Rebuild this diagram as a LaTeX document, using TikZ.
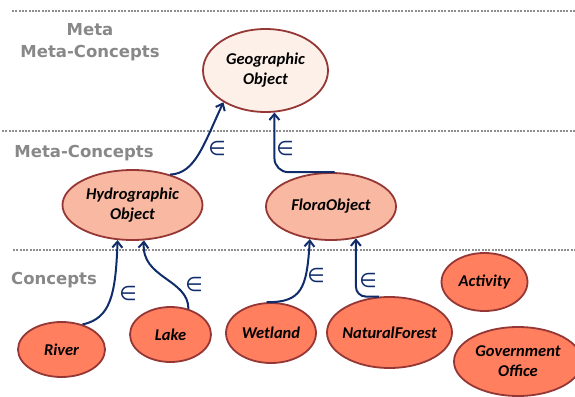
\documentclass[tikz,border=0pt]{standalone}
\usepackage{fontspec}
\setmainfont{Carlito}
\newfontfamily\levelfont{DejaVu Sans}
\usetikzlibrary{shapes.geometric,arrows.meta}
\definecolor{edgered}{HTML}{953735}
\definecolor{conceptfill}{HTML}{FF7F5F}
\definecolor{metafill}{HTML}{F9B8A1}
\definecolor{metametafill}{HTML}{FDF0E9}
\definecolor{isanavy}{HTML}{112C6B}
\definecolor{levelgray}{HTML}{888888}
\definecolor{dotgray}{HTML}{8E8E8E}

\begin{document}
\begin{tikzpicture}[x=1pt,y=-1pt,
  concept/.style={ellipse,draw=edgered,line width=1.8pt,fill=conceptfill,
    inner xsep=-7pt,inner ysep=-2pt,align=center,
    font=\fontsize{16.5}{20}\selectfont\bfseries\itshape},
  metaconcept/.style={concept,fill=metafill},
  metameta/.style={concept,fill=metametafill},
  level/.style={font=\levelfont\fontsize{16.5}{22}\selectfont\bfseries,text=levelgray,align=center},
  isa/.style={draw=isanavy,line width=2pt,-{Straight Barb[length=6pt,width=10pt]}},
  isalabel/.style={text=isanavy,font=\levelfont\fontsize{20}{20}\selectfont},
  divider/.style={dotgray,line width=2pt,dash pattern=on 2pt off 1.3pt}]
\useasboundingbox (0,0) rectangle (575,396);

% level dividers
\draw[divider] (12,11) -- (575,11);
\draw[divider] (2,131) -- (575,131);
\draw[divider] (13,250) -- (575,250);

% level names
\node[level] (lvmetameta) at (90,42) {Meta\\Meta-Concepts};
\node[level] (lvmeta) at (84,153) {Meta-Concepts};
\node[level] (lvconcept) at (54,280) {Concepts};

% meta meta-concepts
\node[metameta,minimum width=125pt,minimum height=83pt] (geo) at (265.5,70.5) {Geographic\\Object};

% meta-concepts
\node[metaconcept,minimum width=140pt,minimum height=70pt] (hydro) at (132.5,205) {Hydrographic\\Object};
\node[metaconcept,minimum width=130pt,minimum height=67pt] (flora) at (331,206.5) {FloraObject};

% concepts
\node[concept,minimum width=87pt,minimum height=55pt] (river) at (61.5,349.5) {River};
\node[concept,minimum width=81pt,minimum height=55pt] (lake) at (170.5,334.5) {Lake};
\node[concept,minimum width=90pt,minimum height=60pt] (wetland) at (271,333) {Wetland};
\node[concept,minimum width=125pt,minimum height=71pt] (forest) at (389.5,332.5) {NaturalForest};
\node[concept,minimum width=86pt,minimum height=58pt] (activity) at (484.5,282) {Activity};
\node[concept,minimum width=128pt,minimum height=69pt] (govoffice) at (518,361.5) {Government\\Office};

% instance-of links
\draw[isa] (hydro.39) .. controls +(25,-1) and +(-20,43) .. (geo.217);
\draw[isa,rounded corners=14pt] (flora.84) -| (geo.282);
\draw[isa] (river.50) .. controls +(28,-6) and +(-2,55) .. (hydro.247);
\draw[isa] (lake.55) .. controls +(0,-30) and +(-3,38) .. (hydro.288);
\draw[isa] (wetland.98) .. controls +(35,0) and +(-3,50) .. (flora.237);
\draw[isa,rounded corners=10pt] (forest.106) -| (flora.308);

\node[isalabel] (in1) at (217,148) {∈};
\node[isalabel] (in2) at (285,148) {∈};
\node[isalabel] (in3) at (128,293) {∈};
\node[isalabel] (in4) at (194,284) {∈};
\node[isalabel] (in5) at (316,275) {∈};
\node[isalabel] (in6) at (368,280) {∈};
\end{tikzpicture}
\end{document}
